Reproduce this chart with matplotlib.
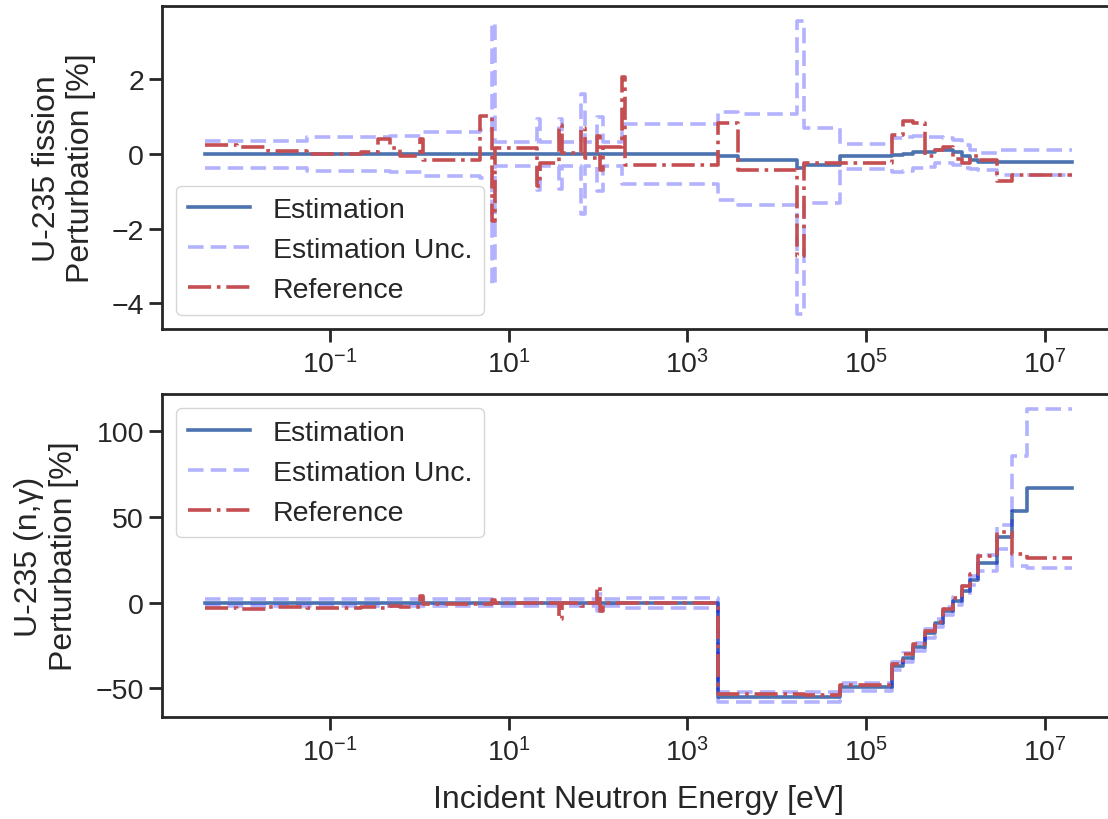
import numpy as np
import matplotlib
matplotlib.use("Agg")
import matplotlib.pyplot as plt
from matplotlib.ticker import NullLocator

# ---------------- data ----------------
energy_edges = [0.004, 0.009, 0.02, 0.055, 0.077, 0.22, 0.34, 0.47, 0.61, 1.0,
                1.1, 4.8, 6.5, 7.0, 20.5, 22.5, 36.0, 39.0, 65.0, 71.0,
                98.0, 106.0, 114.0, 185.0, 200.0, 2200.0, 3700.0, 1.7e4, 2.0e4, 5.1e4,
                1.96e5, 2.61e5, 3.38e5, 4.6e5, 5.96e5, 7.33e5, 9.48e5, 1.19e6, 1.47e6, 1.8e6,
                2.94e6, 4.34e6, 6.38e6, 2.0e7]

fission_est = [0.0] * 25 + [-0.06, -0.15, -0.36, -0.30, -0.06, -0.03, 0.00, 0.05, 0.06,
                            0.10, 0.10, 0.05, -0.06, -0.15, -0.20, -0.22, -0.22, -0.22]
fission_unc = [0.36, 0.36, 0.36, 0.45, 0.45, 0.45, 0.45, 0.47, 0.47, 0.47,
               0.60, 0.65, 3.50, 0.31, 0.95, 0.31, 0.93, 0.31, 1.60, 0.31,
               1.00, 1.00, 0.31, 0.80, 0.80, 1.18, 1.21, 3.93, 1.00, 0.34,
               0.45, 0.45, 0.42, 0.40, 0.35, 0.33, 0.33, 0.30, 0.25, 0.22,
               0.34, 0.34, 0.34]
fission_ref = [0.23, 0.18, 0.08, -0.01, -0.01, 0.05, 0.39, 0.15, -0.04, 0.40,
               -0.15, 1.01, -1.80, 0.17, -0.86, -0.24, 0.79, 0.03, 0.70, -0.10,
               0.48, -0.42, 0.20, 2.05, -0.28, 0.84, -0.43, -2.74, -0.24, -0.24,
               0.52, 0.88, 0.83, -0.06, 0.12, 0.20, -0.13, -0.24, -0.06, -0.15,
               -0.73, -0.55, -0.55]

capture_est = [0.0] * 25 + [-55.1, -55.1, -55.1, -55.1, -49.0, -37.0, -32.0, -26.0, -18.0,
                            -12.0, -5.0, 1.0, 7.0, 13.0, 23.0, 37.9, 53.4, 66.6]
capture_unc = [2.2] * 20 + [5.0, 5.0, 2.2, 2.9, 2.9, 3.0, 3.0, 3.0, 3.0, 2.3,
                            2.5, 2.5, 2.5, 2.5, 2.5, 2.5, 2.5, 2.5, 2.5, 4.5,
                            7.0, 32.0, 46.3]
capture_ref = [-3.2, -3.6, -2.6, -3.4, -3.0, -2.4, -3.0, -2.2, -2.8, 4.0,
               -1.0, -0.8, 1.5, -0.5, -1.5, -0.5, -9.6, -0.3, -2.0, -0.5,
               8.8, -4.8, -0.5, -0.5, -0.5, -53.2, -53.5, -53.5, -53.8, -48.0,
               -35.8, -30.0, -24.1, -16.4, -11.5, -3.8, 2.4, 9.8, 16.6, 27.2,
               41.2, 28.2, 25.7]

ylabels = ["U-235 fission\nPerturbation [%]", "U-235 (n,γ)\nPerturbation [%]"]
xlabel = "Incident Neutron Energy [eV]"
xticks = [1e-1, 1e1, 1e3, 1e5, 1e7]

# ---------------- style ----------------
plt.rcParams.update({
    "font.family": ["Liberation Sans", "DejaVu Sans"],
    "mathtext.fontset": "custom",
    "mathtext.rm": "Liberation Sans",
    "mathtext.it": "Liberation Sans:italic",
    "text.color": "#262626",
    "axes.labelcolor": "#262626",
    "xtick.color": "#262626",
    "ytick.color": "#262626",
    "axes.edgecolor": "#262626",
    "axes.linewidth": 2.0,
    "xtick.major.width": 2.0,
    "ytick.major.width": 2.0,
    "xtick.major.size": 9.5,
    "ytick.major.size": 9.5,
    "xtick.major.pad": 5.0,
    "xtick.labelsize": 20.5,
    "ytick.labelsize": 20.5,
    "axes.labelsize": 23,
    "legend.fontsize": 20.5,
    "legend.handlelength": 2.2,
    "lines.linewidth": 2.6,
})

C_EST = "#4c72b0"
C_REF = "#c44e52"
DASH = (0, (4.3, 2.0))

fig = plt.figure(figsize=(11.08, 8.2), dpi=100)
ax_top = fig.add_axes([162 / 1108, 1 - 330 / 820, (1115 - 162) / 1108, 323 / 820])
ax_bot = fig.add_axes([162 / 1108, 1 - 718 / 820, (1115 - 162) / 1108, 323 / 820])

edges = np.array(energy_edges)


def stepped(vals):
    v = np.asarray(vals, dtype=float)
    return np.append(v, v[-1])


def draw(ax, est, unc, ref, loc):
    est = np.asarray(est, dtype=float)
    unc = np.asarray(unc, dtype=float)
    ax.step(edges, stepped(est), where="post", color=C_EST, label="Estimation")
    ax.step(edges, stepped(est + unc), where="post", color="blue", alpha=0.3,
            ls=DASH, label="Estimation Unc.")
    ax.step(edges, stepped(est - unc), where="post", color="blue", alpha=0.3,
            ls=DASH)
    ax.step(edges, stepped(ref), where="post", color=C_REF, ls="-.",
            label="Reference")
    ax.set_xscale("log")
    ax.set_xticks(xticks)
    ax.xaxis.set_minor_locator(NullLocator())
    ax.legend(loc=loc)


draw(ax_top, fission_est, fission_unc, fission_ref, "lower left")
draw(ax_bot, capture_est, capture_unc, capture_ref, "upper left")

ax_top.set_ylabel(ylabels[0], labelpad=11)
ax_bot.set_ylabel(ylabels[1], labelpad=12)
ax_bot.set_xlabel(xlabel, labelpad=13)

fig.savefig("out.png", dpi=100)
